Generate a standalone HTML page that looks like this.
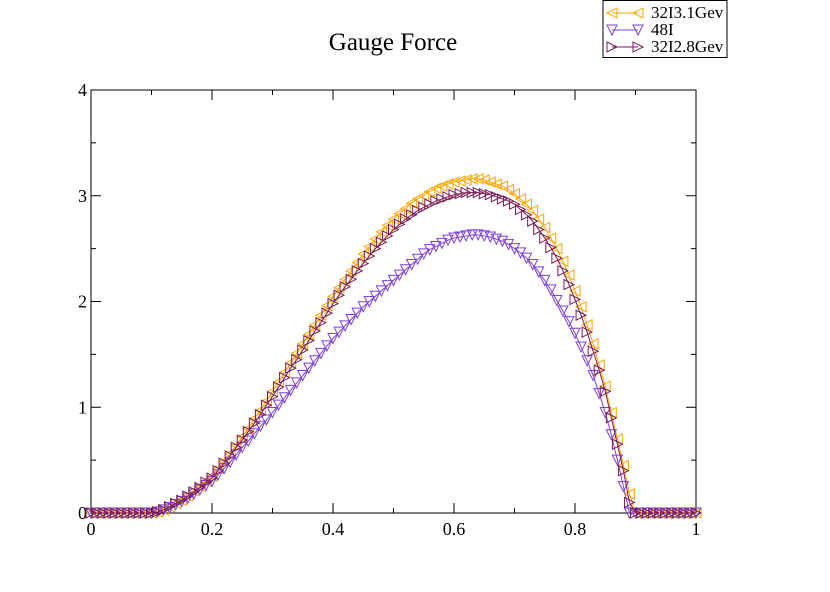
<!DOCTYPE html>
<html><head><meta charset="utf-8"><style>
body{margin:0;background:#fff;}
svg text{font-family:"Liberation Serif",serif;}
</style></head><body>
<svg id="chart" width="830" height="587" xmlns="http://www.w3.org/2000/svg">
<rect width="830" height="587" fill="#fff"/>
<text x="393" y="50" font-size="25" text-anchor="middle">Gauge Force</text>
<g id="axes"></g>
<g id="series"></g>
<g>
<rect x="603" y="0.5" width="124" height="57" fill="#fff" stroke="#000" stroke-width="1"/>
<g id="legend-items"></g>
</g>
</svg>
<script>
const xTicks=[0,0.2,0.4,0.6,0.8,1];
const xTickLabels=["0","0.2","0.4","0.6","0.8","1"];
const yTicks=[0,1,2,3,4];
const yTickLabels=["0","1","2","3","4"];
const seriesNames=["32I3.1Gev","48I","32I2.8Gev"];
const orange=[0,0,0,0,0,0,0,0,0,0,0,0.01,0.03,0.06,0.09,0.12,0.16,0.21,0.25,0.30,0.35,0.42,0.49,0.56,0.64,0.72,0.80,0.89,0.97,1.06,1.15,1.24,1.33,1.42,1.51,1.60,1.69,1.78,1.87,1.96,2.05,2.13,2.21,2.29,2.37,2.45,2.52,2.59,2.66,2.72,2.78,2.83,2.88,2.93,2.97,3.00,3.04,3.07,3.09,3.11,3.13,3.14,3.15,3.16,3.16,3.15,3.13,3.11,3.09,3.06,3.02,2.97,2.92,2.86,2.78,2.70,2.60,2.50,2.38,2.25,2.10,1.95,1.78,1.60,1.40,1.20,0.95,0.70,0.45,0.18,0,0,0,0,0,0,0,0,0,0,0];
const purple=[0,0,0,0,0,0,0,0,0,0,0,0.01,0.03,0.05,0.08,0.11,0.14,0.18,0.22,0.26,0.30,0.36,0.42,0.48,0.55,0.62,0.68,0.75,0.82,0.88,0.95,1.02,1.09,1.16,1.23,1.30,1.37,1.44,1.51,1.58,1.65,1.71,1.77,1.83,1.89,1.95,2.00,2.05,2.10,2.15,2.20,2.25,2.30,2.35,2.40,2.45,2.49,2.52,2.55,2.58,2.60,2.61,2.62,2.63,2.63,2.62,2.61,2.59,2.57,2.54,2.50,2.46,2.41,2.35,2.28,2.20,2.11,2.01,1.91,1.81,1.70,1.57,1.44,1.30,1.13,0.95,0.74,0.50,0.25,0,0,0,0,0,0,0,0,0,0,0,0];
const maroon=[0,0,0,0,0,0,0,0,0,0,0,0.01,0.03,0.06,0.09,0.12,0.16,0.20,0.24,0.29,0.33,0.40,0.47,0.54,0.62,0.69,0.77,0.85,0.93,1.02,1.10,1.19,1.28,1.37,1.45,1.54,1.63,1.72,1.80,1.89,1.98,2.06,2.14,2.21,2.29,2.36,2.43,2.50,2.56,2.62,2.68,2.73,2.78,2.82,2.86,2.89,2.92,2.95,2.97,2.99,3.01,3.02,3.03,3.03,3.03,3.02,3.01,2.99,2.97,2.95,2.92,2.87,2.82,2.76,2.68,2.60,2.51,2.41,2.29,2.16,2.02,1.87,1.71,1.53,1.35,1.15,0.90,0.65,0.40,0.10,0,0,0,0,0,0,0,0,0,0,0];
const xStep=0.01;
const X0=91,X1=696,Y0=513,Y1=90;
function sx(v){return X0+(X1-X0)*v;}
function sy(v){return Y0-(Y0-Y1)*v/4;}
const NS="http://www.w3.org/2000/svg";
function mk(tag,attrs,parent){const e=document.createElementNS(NS,tag);for(const k in attrs)e.setAttribute(k,attrs[k]);parent.appendChild(e);return e;}
const axes=document.getElementById('axes');
const frame=mk('rect',{x:X0,y:Y1,width:X1-X0,height:Y0-Y1,fill:'none',stroke:'#000','stroke-width':1},axes);


for(let i=0;i<=10;i++){const v=i/10,x=sx(v),L=i%2===0?10:5;
 mk('line',{x1:x,y1:Y0,x2:x,y2:Y0-L,stroke:'#000'},axes);
 mk('line',{x1:x,y1:Y1,x2:x,y2:Y1+L,stroke:'#000'},axes);}
for(let i=0;i<=8;i++){const v=i/2,y=sy(v),L=i%2===0?10:5;
 mk('line',{x1:X0,y1:y,x2:X0+L,y2:y,stroke:'#000'},axes);
 mk('line',{x1:X1,y1:y,x2:X1-L,y2:y,stroke:'#000'},axes);}
xTicks.forEach((v,i)=>{const t=mk('text',{x:sx(v),y:Y0+22,'font-size':18,'text-anchor':'middle'},axes);t.textContent=xTickLabels[i];
 
 });
yTicks.forEach((v,i)=>{const t=mk('text',{x:X0-4,y:sy(v)+6,'font-size':18,'text-anchor':'end'},axes);t.textContent=yTickLabels[i];
 
 });
function marker(kind,x,y,c,p){let pts;const r=5;
 if(kind==='left')pts=[[x-r,y],[x+r,y-r],[x+r,y+r]];
 else if(kind==='down')pts=[[x-r,y-r],[x+r,y-r],[x,y+r]];
 else pts=[[x+r,y],[x-r,y-r],[x-r,y+r]];
 return mk('polygon',{points:pts.map(q=>q.join(',')).join(' '),fill:'none',stroke:c,'stroke-width':1},p);}
const defs=[[orange,'#ffa500','left','series-32i3-1gev'],[purple,'#7f3fdc','down','series-48i'],[maroon,'#7a1a55','right','series-32i2-8gev']];
const sg=document.getElementById('series');
defs.forEach(([arr,c,k,nm])=>{const g=mk('g',{},sg);
 
 
 mk('polyline',{points:arr.map((v,i)=>sx(i*xStep)+','+sy(v)).join(' '),fill:'none',stroke:c,'stroke-width':1},g);
 arr.forEach((v,i)=>{const m=marker(k,sx(i*xStep),sy(v),c,g);
  
  });});
const lg=document.getElementById('legend-items');
defs.forEach(([arr,c,k,nm],i)=>{const y=13+i*17;const g=mk('g',{},lg);
 
 
 mk('line',{x1:612,y1:y,x2:638,y2:y,stroke:c},g);
 marker(k,612,y,c,g);marker(k,638,y,c,g);
 const t=mk('text',{x:651,y:y+5,'font-size':17},g);t.textContent=seriesNames[i];});
</script>
</body></html>
